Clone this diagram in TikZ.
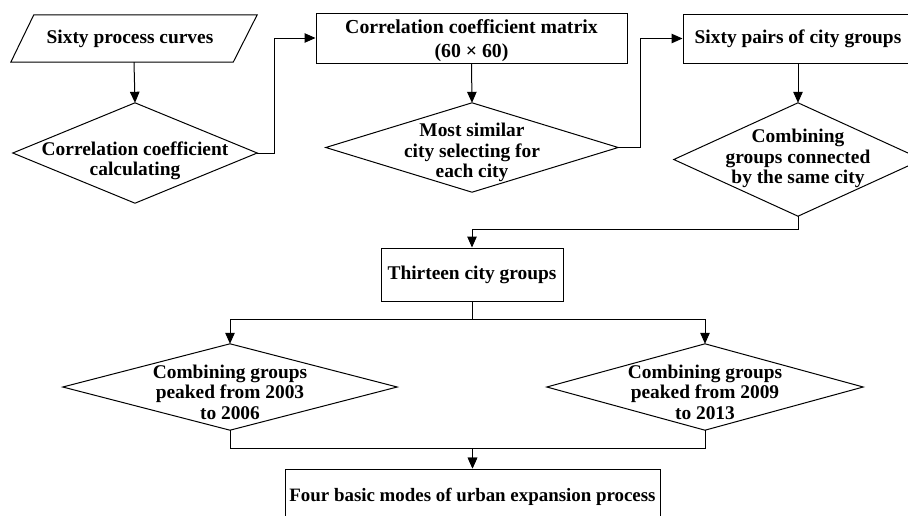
\documentclass[tikz,border=0pt]{standalone}
\usepackage{fontspec}
\setmainfont{Liberation Serif}
\usetikzlibrary{arrows.meta,calc}
\begin{document}
\begin{tikzpicture}[x=1pt,y=-1pt]
\tikzset{
  txt/.style={font=\bfseries\fontsize{19.4}{20.5}\selectfont, align=center, inner sep=0pt},
  box/.style={draw, line width=1pt, rectangle, inner sep=0pt},
  shapebox/.style={rectangle, inner sep=0pt},
  ln/.style={line width=1pt},
  arr/.style={ln, -{Triangle[length=11pt,width=9.5pt]}},
}
\useasboundingbox (0,0) rectangle (908,515);
\clip (0,0) rectangle (908,515);

% shapes
\node[shapebox, minimum width=246pt, minimum height=47pt] (p) at (134,38.5) {};
\draw[ln] ($(p.north west)+(23,0)$) -- (p.north east) -- ($(p.south east)+(-24,0)$) -- (p.south west) -- cycle;
\node[shapebox, minimum width=244pt, minimum height=100pt] (d1) at (135,153) {};
\node[box, minimum width=311pt, minimum height=50pt] (b2) at (471.5,38) {};
\node[shapebox, minimum width=292pt, minimum height=89pt] (d2) at (472,147.5) {};
\node[box, minimum width=230pt, minimum height=49pt] (b3) at (798,38.5) {};
\node[shapebox, minimum width=248pt, minimum height=113pt] (d3) at (798,159.5) {};
\node[box, minimum width=182pt, minimum height=53pt] (b4) at (472,274.5) {};
\node[shapebox, minimum width=334pt, minimum height=86pt] (d4) at (230,387) {};
\node[shapebox, minimum width=316pt, minimum height=86pt] (d5) at (705,387) {};
\node[box, minimum width=375pt, minimum height=56pt] (b5) at (472.5,497) {};

\foreach \d in {d1,d2,d3,d4,d5}{
  \draw[ln] (\d.north) -- (\d.east) -- (\d.south) -- (\d.west) -- cycle;
}

% texts
\node[txt] (pt) at ($(p)+(-4,0)$) {Sixty process curves};
\node[txt] (d1t) at ($(d1)+(0,8)$) {Correlation coefficient\\calculating};
\node[txt, font=\bfseries\fontsize{19.8}{24}\selectfont] (b2t) at ($(b2)+(0,3)$) {Correlation coefficient matrix\\(60 × 60)};
\node[txt] (d2t) at ($(d2)+(0,5)$) {Most similar\\city selecting for\\each city};
\node[txt] (b3t) at (b3) {Sixty pairs of city groups};
\node[txt] (d3t) at ($(d3)+(0,-1)$) {Combining\\groups connected\\by the same city};
\node[txt] (b4t) at (b4) {Thirteen city groups};
\node[txt] (d4t) at ($(d4)+(0,5)$) {Combining groups\\peaked from 2003\\to 2006};
\node[txt] (d5t) at ($(d5)+(0,5)$) {Combining groups\\peaked from 2009\\to 2013};
\node[txt, font=\bfseries\fontsize{18.9}{20.5}\selectfont] (b5t) at (b5) {Four basic modes of urban expansion process};

% connectors
\draw[arr] (p.south) -- (d1.north);
\draw[arr] (d1.east) -- ++(17,0) |- (b2.west);
\draw[arr] (b2.south) -- (d2.north);
\draw[arr] (d2.east) -- ++(22,0) |- (b3.west);
\draw[arr] (b3.south) -- (d3.north);
\draw[arr] (d3.south) -- ++(0,13) -| (b4.north);
\draw[arr] (b4.south) -- ++(0,18) -| (d4.north);
\draw[arr] (b4.south) -- ++(0,18) -| (d5.north);
\draw[arr] (d4.south) -- ++(0,18) -| (b5.north);
\draw[arr] (d5.south) -- ++(0,18) -| (b5.north);
\end{tikzpicture}
\end{document}
